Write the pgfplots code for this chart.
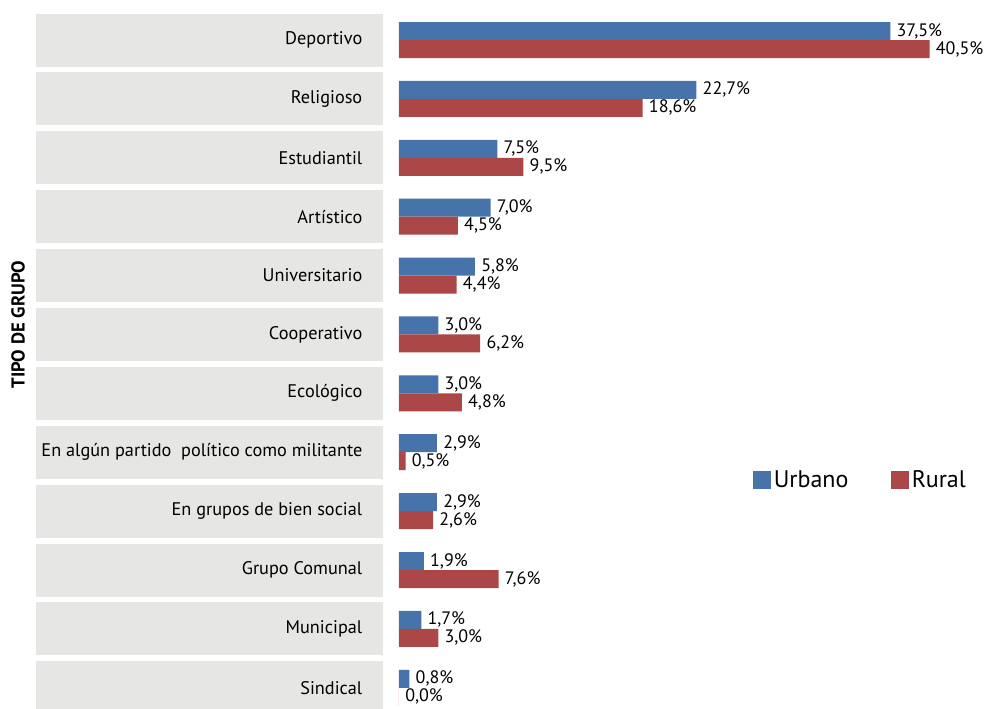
\documentclass[border=0pt]{standalone}
\usepackage{fontspec}
\setmainfont{PT Sans}
\usepackage{pgfplots}
\pgfplotsset{compat=1.18}
\definecolor{urbano}{RGB}{70,116,170}
\definecolor{rural}{RGB}{171,71,70}
\definecolor{caja}{RGB}{230,230,229}
\begin{document}
\begin{tikzpicture}
\begin{axis}[
    set layers,
    scale only axis,
    width=440.25pt, height=531.75pt,
    xbar, bar width=13.5pt,
    xmin=0, xmax=44.8,
    ymin=-0.68, ymax=11.36,
    y dir=reverse,
    clip=false,
    axis line style={draw=none},
    major tick length=0pt,
    xtick=\empty,
    ytick={0,...,11},
    yticklabels={Deportivo, Religioso, Estudiantil, Artístico, Universitario, Cooperativo, Ecológico,
        {En algún partido\ \ político como militante}, En grupos de bien social, Grupo Comunal, Municipal, Sindical},
    yticklabel style={font=\fontsize{13.7}{16}\selectfont, anchor=east, xshift=-24pt},
    /pgf/number format/assume math mode=true,
    nodes near coords={\pgfmathprintnumber[fixed, fixed zerofill, precision=1, use comma]{\pgfplotspointmeta}\%},
    nodes near coords style={font=\fontsize{13.5}{15}\selectfont, anchor=west, color=black, inner sep=4.5pt},
    legend style={at={(0.596,0.323)}, anchor=west, draw=none, fill=none,
        legend columns=2, font=\fontsize{18}{20}\selectfont,
        /tikz/every even column/.append style={column sep=30pt}},
    legend image code/.code={\fill[#1] (0pt,-6.75pt) rectangle (13.5pt,6.75pt);},
]
\addplot[fill=urbano, draw=none, bar shift=6.75pt] coordinates {
    (37.5,0) (22.7,1) (7.5,2) (7.0,3) (5.8,4) (3.0,5) (3.0,6) (2.9,7) (2.9,8) (1.9,9) (1.7,10) (0.8,11)};
\addplot[fill=rural, draw=none, bar shift=-6.75pt] coordinates {
    (40.5,0) (18.6,1) (9.5,2) (4.5,3) (4.4,4) (6.2,5) (4.8,6) (0.5,7) (2.6,8) (7.6,9) (3.0,10) (0.0,11)};
\legend{Urbano, Rural}
\begin{pgfonlayer}{axis background}
\pgfplotsinvokeforeach{0,...,11}{
    \fill[caja] (axis cs:-27.7,#1-0.45) rectangle (axis cs:-1.22,#1+0.45);
}
\end{pgfonlayer}
\node[rotate=90, font=\bfseries\fontsize{14}{16}\selectfont] at (rel axis cs:-0.649,0.542) {TIPO DE GRUPO};
\end{axis}
\pgfresetboundingbox
\useasboundingbox ([xshift=-299.25pt]current axis.south west) rectangle (current axis.north east);
\end{tikzpicture}
\end{document}
